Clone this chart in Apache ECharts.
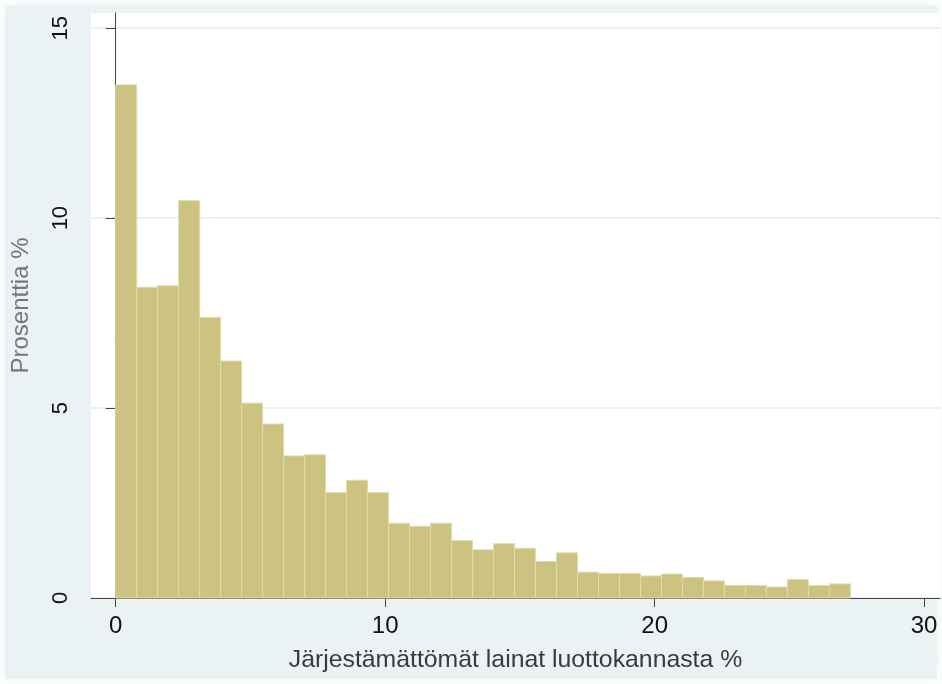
<!DOCTYPE html>
<html>
<head>
<meta charset="utf-8">
<script src="https://cdn.jsdelivr.net/npm/echarts@6/dist/echarts.min.js"></script>
<style>
html,body{margin:0;padding:0;background:#ffffff;}
#chart{width:942px;height:684px;}
</style>
</head>
<body>
<div id="chart"></div>
<script>
// Histogram bins: start and width (in %), and the share of observations in each bin (Prosenttia %)
const binStart = 0;
const binWidth = 0.779;
const percents = [13.51, 8.18, 8.22, 10.46, 7.39, 6.24, 5.13, 4.58, 3.74, 3.77,
                  2.78, 3.10, 2.78, 1.97, 1.89, 1.97, 1.51, 1.27, 1.43, 1.31,
                  0.96, 1.19, 0.68, 0.65, 0.65, 0.58, 0.63, 0.54, 0.45, 0.33,
                  0.33, 0.29, 0.49, 0.33, 0.37];
const xTicks = [0, 10, 20, 30];
const yTicks = [0, 5, 10, 15];
const xTitle = 'Järjestämättömät lainat luottokannasta %';
const yTitle = 'Prosenttia %';

const bins = percents.map((v, i) => [binStart + i * binWidth, binStart + (i + 1) * binWidth, v]);

const chart = echarts.init(document.getElementById('chart'), null, {renderer: 'canvas'});
const font = '"Liberation Sans", Arial, sans-serif';

chart.setOption({
  animation: false,
  backgroundColor: '#ffffff',
  graphic: [{
    type: 'rect',
    z: -10,
    silent: true,
    shape: {x: 5, y: 5, width: 932, height: 674},
    style: {fill: '#eaf2f3', shadowBlur: 14, shadowColor: 'rgba(234,242,243,0.9)'}
  }],
  grid: {left: 91, top: 13, right: 2, bottom: 86, show: true, backgroundColor: '#ffffff', borderWidth: 0},
  xAxis: {
    type: 'value',
    min: -0.917, max: 30.59,
    name: xTitle,
    nameLocation: 'middle',
    nameGap: 50,
    nameTextStyle: {fontFamily: font, fontSize: 24.8, color: '#3a3a3a'},
    axisLine: {show: true, onZero: false, lineStyle: {color: '#444444', width: 1}},
    axisTick: {show: true, length: 9, lineStyle: {color: '#444444'}, customValues: xTicks},
    axisLabel: {fontFamily: font, fontSize: 24, color: '#111111', margin: 16, customValues: xTicks},
    splitLine: {show: false}
  },
  yAxis: {
    type: 'value',
    min: 0, max: 15.4,
    interval: 5,
    name: yTitle,
    nameLocation: 'middle',
    nameGap: 58,
    nameRotate: 90,
    nameTextStyle: {fontFamily: font, fontSize: 24, color: '#777777'},
    axisLine: {show: true, lineStyle: {color: '#444444', width: 1}},
    axisTick: {show: true, length: 10, lineStyle: {color: '#444444'}, customValues: yTicks},
    axisLabel: {fontFamily: font, fontSize: 22, color: '#111111', margin: 19, rotate: 90, customValues: yTicks},
    splitLine: {show: true, lineStyle: {color: '#e3edef', width: 1.5}}
  },
  series: [{
    type: 'custom',
    data: bins,
    encode: {x: [0, 1], y: 2},
    renderItem: function (params, api) {
      const p0 = api.coord([api.value(0), api.value(2)]);
      const p1 = api.coord([api.value(1), 0]);
      return {
        type: 'rect',
        shape: {x: p0[0], y: p0[1], width: p1[0] - p0[0], height: p1[1] - p0[1]},
        style: {fill: '#cbc37f', stroke: '#e0dcae', lineWidth: 1}
      };
    }
  }]
});
</script>
</body>
</html>
